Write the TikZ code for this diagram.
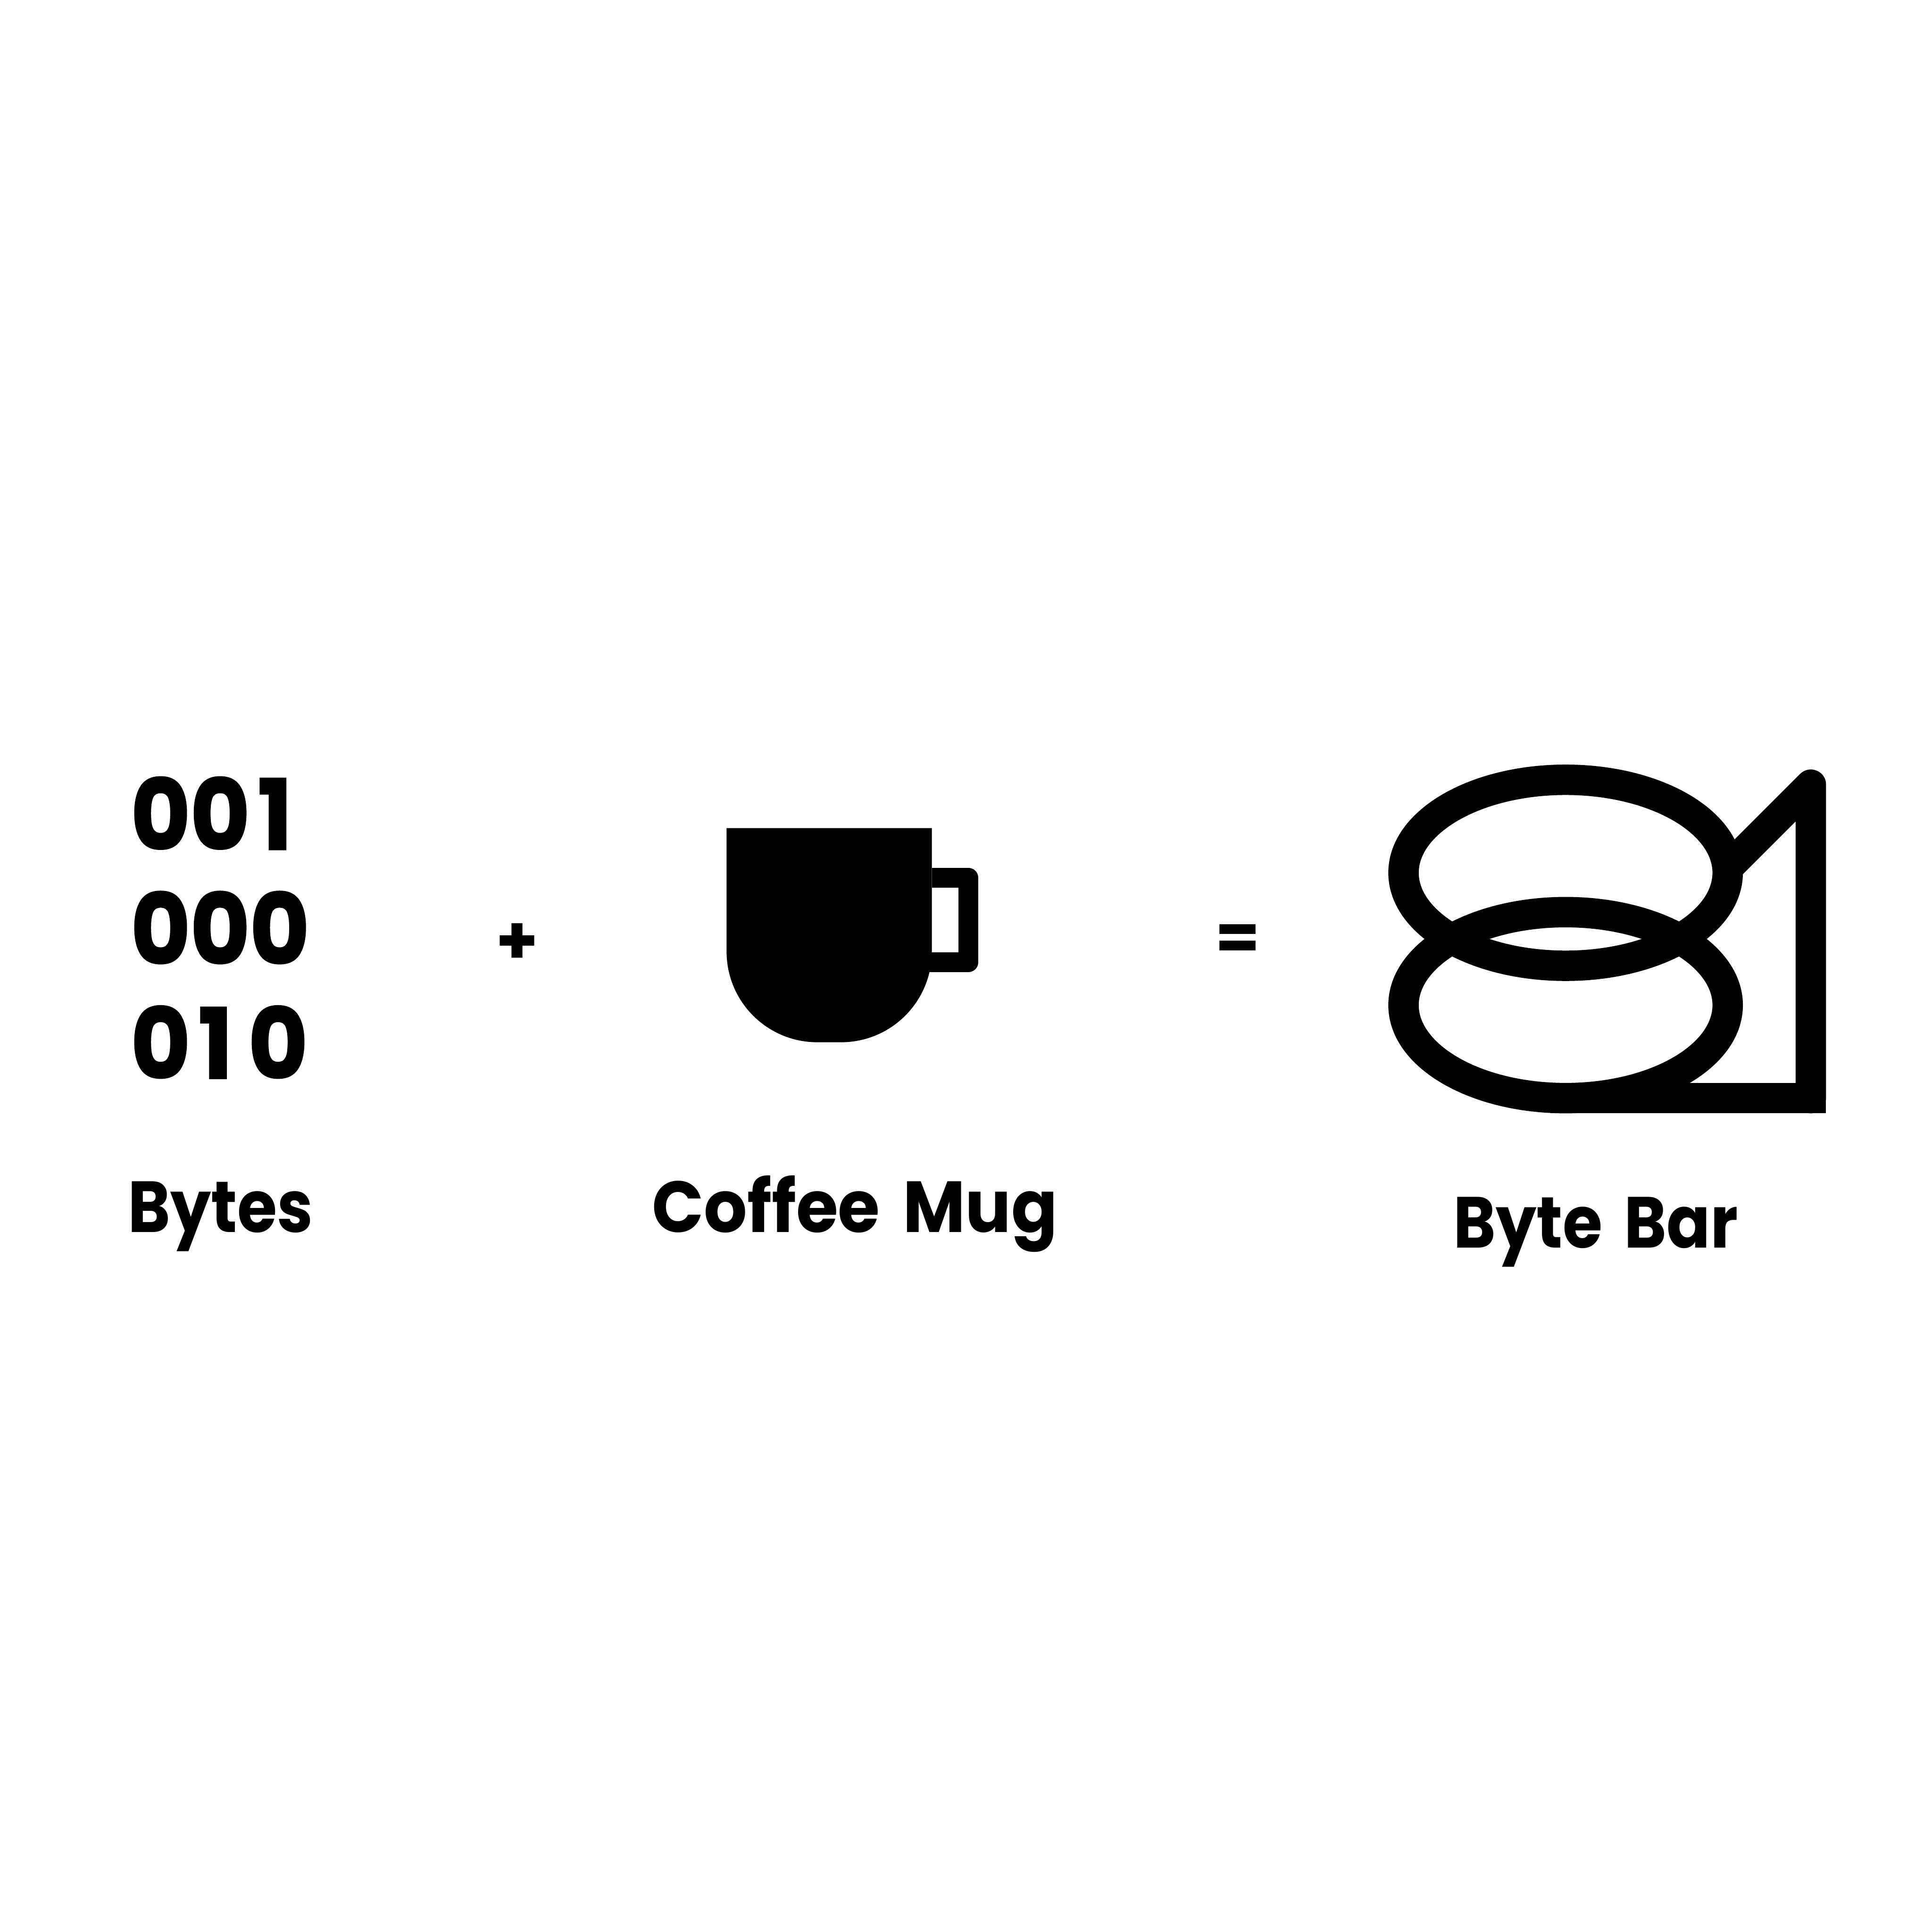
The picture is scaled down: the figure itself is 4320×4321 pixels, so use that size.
\documentclass[tikz,border=0pt]{standalone}
\usepackage{fontspec}
\usepackage{xcolor}
\usetikzlibrary{positioning}
\setmainfont{Poppins}
\newfontfamily\digitfont{Poppins}[FakeStretch=0.936,FakeBold=1.5]
\newfontfamily\capfont{Poppins}[FakeStretch=0.89,WordSpace=1.6]
\newfontfamily\mugfont{Poppins}[FakeStretch=0.94,WordSpace=1.6]
\newcommand{\onedigit}{\kern0.18cm 1\kern0.35cm }
\begin{document}
\begin{tikzpicture}[
  x=0.01cm,y=-0.01cm,
  digits/.style={anchor=base west,inner sep=0pt,font=\fontsize{62pt}{70pt}\digitfont\bfseries},
  caption/.style={anchor=base west,inner sep=0pt,font=\fontsize{46pt}{50pt}\capfont\bfseries},
  mugcaption/.style={anchor=base west,inner sep=0pt,font=\fontsize{46pt}{50pt}\mugfont\bfseries},
  oper/.style={anchor=base,inner sep=0pt,font=\fontsize{#1}{50pt}\bfseries},
  ring/.style={draw=black,line width=0.68cm},
  handle/.style={draw=black,line width=0.44cm,line join=round}
]
\useasboundingbox (0,0) rectangle (4320,4321);
\fill[white] (0,0) rectangle (4320,4321);
\node[digits] (row1) at (292,1900) {00\onedigit};
\node[digits] (row2) at (292,2156) {000};
\node[digits] (row3) at (292,2412) {0\onedigit 0};
\node[caption] (bytes) at (286,2756) {Bytes};
\node[oper=43pt] (plus) at (1157,2157) {+};
\fill (1625,1852) -- (1625,2128) arc[start angle=180,end angle=90,radius=203]
  -- (1881,2331) arc[start angle=90,end angle=0,radius=203] -- (2084,1852) -- cycle;
\draw[handle] (2084,1963) -- (2166,1963) -- (2166,2152) -- (2070,2152);
\node[mugcaption] (mug) at (1458,2756) {Coffee Mug};
\node[oper=41pt] (equals) at (2768,2147) {=};
\draw[ring] (3501.5,1952) ellipse [x radius=362.5,y radius=208];
\draw[ring] (3501.5,2248) ellipse [x radius=362.5,y radius=208];
\draw[ring,line join=round,line cap=round] (3864,1941) -- (4050,1755) -- (4050,2456);
\draw[ring] (4050,2400) -- (4050,2490);
\draw[ring] (3468,2456) -- (4084,2456);
\node[caption] (bar) at (3250,2791) {Byte Bar};
\end{tikzpicture}
\end{document}
